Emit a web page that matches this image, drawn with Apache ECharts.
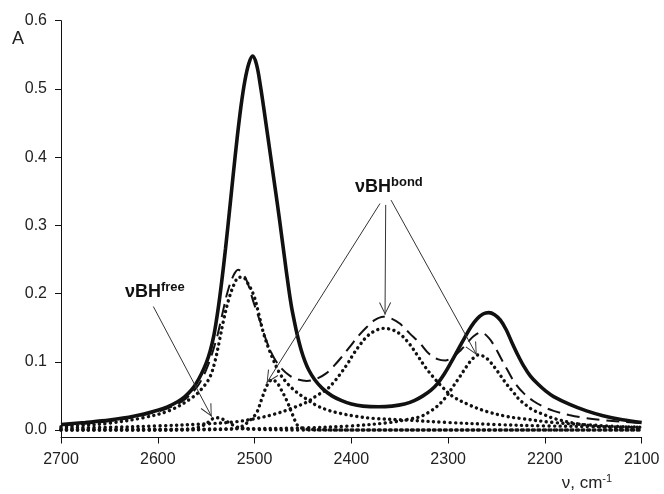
<!DOCTYPE html>
<html>
<head>
<meta charset="utf-8">
<script src="https://cdn.jsdelivr.net/npm/echarts@6/dist/echarts.min.js"></script>
<style>
  html, body { margin: 0; padding: 0; background: #fff; }
  #chart { width: 664px; height: 494px; }
</style>
</head>
<body>
<div id="chart"></div>
<script>
// measured spectrum (wavenumber, absorbance)
const solidCurve = [[2700,0.008],[2675,0.011],[2650,0.0145],[2625,0.020],[2600,0.029],[2590,0.034],[2580,0.041],[2572,0.049],[2565,0.059],[2560,0.069],[2555,0.082],[2550,0.098],[2546,0.115],[2542,0.139],[2538,0.174],[2534,0.217],[2530,0.266],[2526,0.320],[2522,0.375],[2518,0.428],[2514,0.475],[2510,0.512],[2506,0.537],[2502,0.548],[2498,0.536],[2494,0.505],[2489,0.457],[2484,0.407],[2479,0.357],[2474,0.306],[2469,0.252],[2465,0.210],[2462,0.182],[2459,0.160],[2456,0.140],[2452,0.118],[2448,0.101],[2444,0.088],[2438,0.074],[2430,0.061],[2420,0.050],[2410,0.043],[2400,0.038],[2388,0.035],[2372,0.034],[2358,0.035],[2345,0.038],[2335,0.043],[2326,0.050],[2318,0.058],[2311,0.068],[2304,0.082],[2297,0.099],[2290,0.117],[2283,0.135],[2276,0.152],[2270,0.163],[2264,0.170],[2258,0.172],[2252,0.169],[2246,0.161],[2240,0.147],[2234,0.128],[2228,0.110],[2222,0.094],[2215,0.079],[2207,0.067],[2199,0.057],[2191,0.049],[2175,0.038],[2157,0.028],[2140,0.021],[2120,0.015],[2100,0.011]]

// second spectrum (dashed)
const dashedCurve = [[2700,0.007],[2650,0.013],[2600,0.027],[2575,0.042],[2560,0.062],[2550,0.088],[2540,0.13],[2533,0.172],[2528,0.202],[2522,0.226],[2517,0.235],[2512,0.229],[2507,0.215],[2501,0.187],[2494,0.158],[2487,0.128],[2480,0.106],[2472,0.09],[2463,0.079],[2455,0.074],[2446,0.072],[2436,0.075],[2426,0.083],[2418,0.094],[2410,0.107],[2401,0.123],[2392,0.139],[2384,0.151],[2376,0.161],[2367,0.166],[2358,0.163],[2350,0.156],[2340,0.142],[2329,0.127],[2320,0.112],[2311,0.104],[2303,0.102],[2295,0.107],[2287,0.117],[2280,0.128],[2274,0.137],[2266,0.143],[2258,0.135],[2251,0.12],[2245,0.104],[2238,0.086],[2231,0.069],[2222,0.054],[2212,0.0425],[2200,0.033],[2191,0.028],[2175,0.022],[2160,0.018],[2136,0.014],[2120,0.012],[2100,0.010]]

// fitted bands (dotted)
const bandFree = [[2700,0.0],[2600,0.0],[2570,0.001],[2558,0.004],[2550,0.009],[2545,0.015],[2540,0.018],[2535,0.017],[2528,0.012],[2522,0.007],[2515,0.003],[2500,0.001],[2450,0.0],[2300,0.0],[2100,0.0]]
const band2515 = [[2700,0.005],[2675,0.007],[2650,0.010],[2615,0.018],[2587,0.029],[2563,0.049],[2553,0.063],[2546,0.078],[2541,0.1],[2536,0.133],[2532,0.161],[2527,0.19],[2521,0.214],[2516,0.224],[2512,0.224],[2507,0.215],[2501,0.198],[2496,0.172],[2491,0.143],[2486,0.122],[2481,0.104],[2474,0.083],[2466,0.068],[2457,0.056],[2446,0.045],[2436,0.036],[2424,0.029],[2412,0.0245],[2395,0.020],[2377,0.017],[2343,0.0145],[2300,0.011],[2250,0.008],[2200,0.006],[2150,0.005],[2100,0.004]]
const band2482 = [[2700,0.0],[2600,0.0],[2530,0.001],[2515,0.004],[2505,0.014],[2498,0.025],[2493,0.044],[2488,0.063],[2485,0.070],[2482,0.074],[2479,0.072],[2476,0.068],[2474,0.063],[2467,0.044],[2460,0.02],[2455,0.006],[2445,0.001],[2400,0.0],[2300,0.0],[2200,0.0],[2100,0.0]]
const band2367 = [[2700,0.003],[2650,0.004],[2600,0.006],[2550,0.009],[2520,0.012],[2498,0.017],[2480,0.023],[2463,0.031],[2446,0.041],[2435,0.051],[2425,0.060],[2417,0.072],[2411,0.083],[2404,0.097],[2398,0.111],[2391,0.125],[2384,0.137],[2376,0.145],[2367,0.149],[2358,0.147],[2350,0.141],[2341,0.128],[2332,0.110],[2323,0.091],[2315,0.077],[2306,0.063],[2295,0.049],[2277,0.036],[2260,0.027],[2240,0.020],[2226,0.017],[2191,0.011],[2160,0.008],[2122,0.005],[2100,0.004]]
const band2269 = [[2700,0.001],[2600,0.001],[2500,0.002],[2450,0.003],[2400,0.006],[2360,0.011],[2340,0.016],[2329,0.0195],[2320,0.026],[2312,0.034],[2303,0.047],[2295,0.0635],[2288,0.078],[2281,0.093],[2275,0.104],[2269,0.110],[2262,0.107],[2256,0.099],[2250,0.088],[2245,0.078],[2240,0.068],[2233,0.056],[2226,0.044],[2219,0.036],[2212,0.029],[2200,0.022],[2191,0.017],[2170,0.010],[2150,0.006],[2125,0.003],[2100,0.002]]

const yTicks = [0, 0.1, 0.2, 0.3, 0.4, 0.5, 0.6]

// annotation arrows, [from, to] in data units
const freeArrows = [[[2604.6, 0.181], [2544.3, 0.0195]]]
const bondArrows = [
  [[2370.4, 0.332], [2487.5, 0.069]],
  [[2364.5, 0.330], [2365.2, 0.169]],
  [[2359.0, 0.337], [2270.5, 0.110]]
]
// label anchors (left edge, baseline)
const freeLabelAt = [2633.9, 0.193]
const bondLabelAt = [2396.2, 0.347]

const FONT = '"Liberation Sans", Arial, sans-serif'
const INK = '#111'

// open V arrow head, tip at the centre of its box
const arrowHead = 'path://M0,-12.5M-12.5,0M12.5,0M0,0L6,12L5.1,12.5L0,1.9L-5.1,12.5L-6,12Z'

const chart = echarts.init(document.getElementById('chart'))

const dotted = { color: INK, width: 3.4, type: [0.1, 5.4], cap: 'round' }

const lineSeries = (data, lineStyle, extra) => Object.assign({
  type: 'line',
  data: data,
  showSymbol: false,
  smooth: 0.35,
  silent: true,
  lineStyle: lineStyle
}, extra || {})

const option = {
  animation: false,
  grid: { left: 61, right: 22.3, top: 20.7, bottom: 56.5, containLabel: false, outerBoundsMode: 'none' },
  xAxis: {
    type: 'value',
    min: 2100,
    max: 2700,
    interval: 100,
    inverse: true,
    axisLine: { show: true, onZero: false, lineStyle: { color: INK, width: 1 } },
    axisTick: { show: true, length: 6, lineStyle: { color: INK } },
    axisLabel: { color: '#222', fontSize: 16, fontFamily: FONT, margin: 14, formatter: v => String(v) },
    splitLine: { show: false }
  },
  yAxis: {
    type: 'value',
    min: -0.011,
    max: 0.6,
    axisLine: { show: true, onZero: false, lineStyle: { color: INK, width: 1 } },
    axisTick: { show: true, length: 6, lineStyle: { color: INK }, customValues: yTicks },
    axisLabel: {
      color: '#222', fontSize: 16, fontFamily: FONT, margin: 14,
      customValues: yTicks,
      formatter: v => v.toFixed(1)
    },
    splitLine: { show: false }
  },
  series: [
    lineSeries(bandFree, dotted),
    lineSeries(band2515, dotted),
    lineSeries(band2482, dotted),
    lineSeries(band2367, dotted),
    lineSeries(band2269, dotted),
    lineSeries(dashedCurve, { color: INK, width: 2, type: [13, 7] }),
    lineSeries(solidCurve, { color: INK, width: 3.6 }, {
      markLine: {
        silent: true,
        animation: false,
        symbol: ['none', arrowHead],
        symbolSize: 25,
        label: { show: false },
        emphasis: { disabled: true },
        lineStyle: { color: '#333', width: 1, type: 'solid' },
        data: freeArrows.concat(bondArrows).map(a => [{ coord: a[0] }, { coord: a[1] }])
      }
    })
  ]
}

chart.setOption(option)

// labels: place them from data anchors
const toPx = p => chart.convertToPixel({ gridIndex: 0 }, p)

const supLabel = (anchor, main, sup) => {
  const p = toPx(anchor)
  return {
    type: 'text',
    silent: true,
    style: {
      x: p[0],
      y: p[1] - 17.2,
      align: 'left',
      verticalAlign: 'top',
      text: '{m|' + main + '}{s|' + sup + '}',
      rich: {
        m: { fontSize: 18, fontWeight: 'bold', fontFamily: FONT, lineHeight: 22, fill: INK },
        s: { fontSize: 13, fontWeight: 'bold', fontFamily: FONT, lineHeight: 9, verticalAlign: 'top', fill: INK }
      }
    }
  }
}

chart.setOption({
  graphic: [
    supLabel(freeLabelAt, 'νBH', 'free'),
    supLabel(bondLabelAt, 'νBH', 'bond'),
    {
      type: 'text', silent: true,
      style: { x: 12, y: 38.8, text: 'A', font: '18px ' + FONT, fill: '#222', align: 'left', verticalAlign: 'middle' }
    },
    {
      type: 'text', silent: true,
      style: {
        x: 561.7, y: 473.1, align: 'left', verticalAlign: 'top',
        text: '{m|ν, cm}{s|-1}',
        rich: {
          m: { fontSize: 17, fontFamily: FONT, lineHeight: 20, fill: '#222' },
          s: { fontSize: 11, fontFamily: FONT, lineHeight: 8, verticalAlign: 'top', fill: '#222' }
        }
      }
    }
  ]
})

window.addEventListener('resize', () => chart.resize())
</script>
</body>
</html>
